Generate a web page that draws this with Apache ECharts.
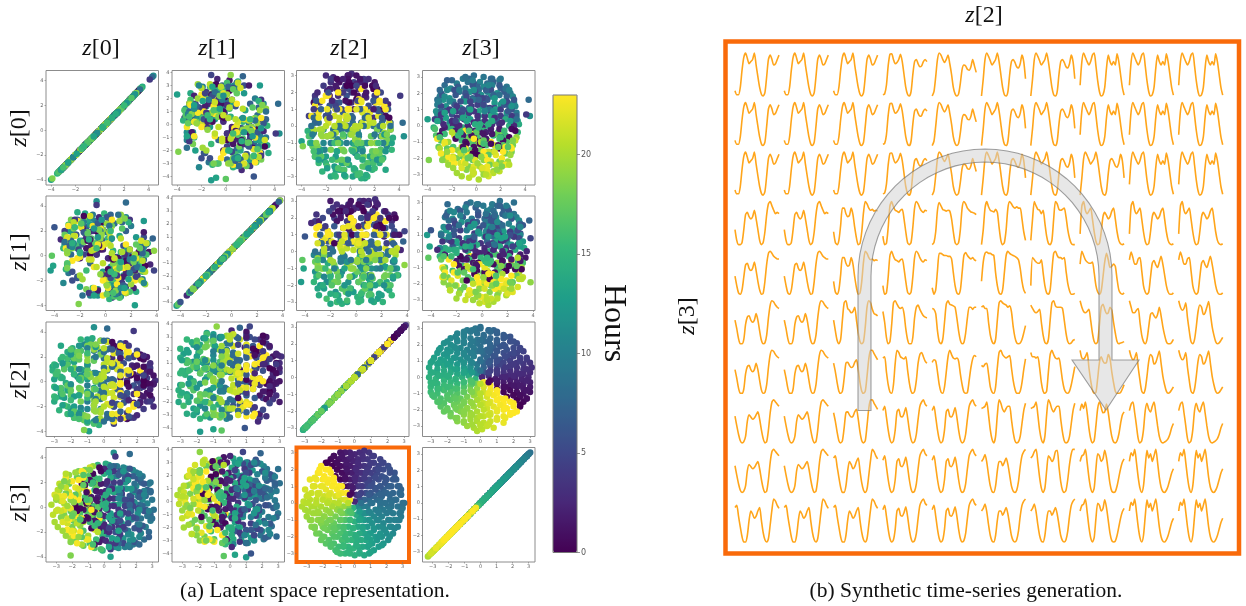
<!DOCTYPE html>
<html><head><meta charset="utf-8">
<style>html,body{margin:0;padding:0;background:#fff}#c{width:1246px;height:606px}</style>
<script src="https://cdn.jsdelivr.net/npm/echarts@6/dist/echarts.min.js"></script>
</head><body><div id="c"></div>
<script>
// Latent coordinates and the hour of each sample
const z2 = [
[-.8,-.3,0,.5,.8],
[-1.4,-1,-.6,-.2,.2,.6,1,1.4],
[-1.8,-1.4,-1,-.6,-.2,.2,.6,1,1.4,1.8],
[-2.2,-1.8,-1.4,-1,-.6,-.2,.2,.6,1,1.4,1.8,2.2],
[-2.4,-2,-1.6,-1.2,-.8,-.4,0,.4,.8,1.2,1.6,2,2.4],
[-2.6,-2.2,-1.8,-1.4,-1,-.6,-.2,.2,.6,1,1.4,1.8,2.2,2.6],
[-2.8,-2.4,-2,-1.6,-1.2,-.8,-.4,0,.4,.8,1.2,1.6,2,2.4,2.8],
[-3,-2.6,-2.2,-1.8,-1.4,-1,-.6,-.2,.2,.6,1,1.4,1.8,2.2,2.6,3],
[-3.1,-2.6,-2.2,-1.8,-1.4,-1,-.6,-.2,.2,.6,1,1.4,1.8,2.2,2.6,3.1],
[-3,-2.6,-2.2,-1.8,-1.4,-1,-.6,-.2,.2,.6,1,1.4,1.8,2.2,2.6,3],
[-3.1,-2.7,-2.3,-1.9,-1.5,-1.1,-.7,-.3,.1,.5,.9,1.3,1.7,2.1,2.5,2.9],
[-3,-2.6,-2.2,-1.8,-1.4,-1,-.6,-.2,.2,.6,1,1.4,1.8,2.2,2.6,3],
[-3,-2.6,-2.2,-1.8,-1.4,-1,-.6,-.2,.2,.6,1,1.4,1.8,2.2,2.6,3],
[-3,-2.6,-2.2,-1.8,-1.4,-1,-.6,-.2,.2,.6,1,1.4,1.8,2.2,2.6,3],
[-2.8,-2.4,-2,-1.6,-1.2,-.8,-.4,0,.4,.8,1.2,1.6,2,2.4,2.8],
[-2.6,-2.2,-1.8,-1.4,-1,-.6,-.2,.2,.6,1,1.4,1.8,2.2,2.6],
[-2.4,-2,-1.6,-1.2,-.8,-.4,0,.4,.8,1.2,1.6,2,2.4],
[-2.2,-1.8,-1.4,-1,-.6,-.2,.2,.6,1,1.4,1.8,2.2],
[-1.8,-1.4,-1,-.6,-.2,.2,.6,1,1.4,1.8],
[-1.4,-1,-.6,-.2,.2,.6,1,1.4],
[-.8,-.4,0,.4,.8],
[-.2,.1],
[-.9,-.6,.2,1.8,-1.8,-1,-.5,.9,1.2,-.8,.6,-1.2],
[2.8,2.8,2.8,2.8,2.8],
[2.4,2.4,2.4,2.4,2.4,2.4],
[2,2,2,2,2,2,2,2],
[1.5,1.5,1.5,1.5,1.5,1.5,1.5,1.5,1.5],
[1,1,1,1,1,1,1,1,1,1],
[.5,.5,.5,.5,.5,.5,.5,.5,.5,.5],
[0,0,0,0,0,0,0,0,0,0],
[-.5,-.5,-.5,-.5,-.5,-.5,-.5,-.5,-.5,-.5],
[-1,-1,-1,-1,-1,-1,-1,-1,-1,-1],
[-1.5,-1.5,-1.5,-1.5,-1.5,-1.5,-1.5,-1.5,-1.5],
[-2,-2,-2,-2,-2,-2,-2],
[-2.5,-2.5,-2.5,-2.5,-2.5],
[-2.9,-2.9,-2.9,-2.9]
].flat();
const z3 = [
[2.9,3,3.1,2.9,2.9],
[2.7,2.6,2.8,2.7,2.6,2.8,2.7,2.6],
[2.4,2.3,2.5,2.4,2.3,2.5,2.4,2.3,2.4,2.5],
[2.1,2,2.2,2.1,2,2.1,2.2,2,2.1,2,2.2,2.1],
[1.8,1.7,1.9,1.8,1.7,1.8,1.9,1.7,1.8,1.9,1.7,1.8,1.8],
[1.5,1.4,1.6,1.5,1.4,1.5,1.6,1.4,1.5,1.6,1.5,1.4,1.5,1.6],
[1.2,1.1,1.3,1.2,1.1,1.2,1.3,1.1,1.2,1.3,1.1,1.2,1.3,1.2,1.1],
[.9,.8,1,.9,.8,.9,1,.8,.9,1,.8,.9,1,.9,.8,.9],
[.6,.5,.7,.6,.5,.6,.7,.5,.6,.7,.5,.6,.7,.6,.5,.6],
[.3,.2,.4,.3,.2,.3,.4,.2,.3,.4,.2,.3,.4,.3,.2,.3],
[0,-.1,.1,0,-.1,0,.1,-.1,0,.1,-.1,0,.1,0,-.1,0],
[-.3,-.4,-.2,-.3,-.4,-.3,-.2,-.4,-.3,-.2,-.4,-.3,-.2,-.3,-.4,-.3],
[-.6,-.7,-.5,-.6,-.7,-.6,-.5,-.7,-.6,-.5,-.7,-.6,-.5,-.6,-.7,-.6],
[-.9,-1,-.8,-.9,-1,-.9,-.8,-1,-.9,-.8,-1,-.9,-.8,-.9,-1,-.9],
[-1.2,-1.3,-1.1,-1.2,-1.3,-1.2,-1.1,-1.3,-1.2,-1.1,-1.3,-1.2,-1.1,-1.2,-1.3],
[-1.5,-1.6,-1.4,-1.5,-1.6,-1.5,-1.4,-1.6,-1.5,-1.4,-1.6,-1.5,-1.4,-1.5],
[-1.8,-1.9,-1.7,-1.8,-1.9,-1.8,-1.7,-1.9,-1.8,-1.7,-1.9,-1.8,-1.8],
[-2.1,-2.2,-2,-2.1,-2.2,-2.1,-2,-2.2,-2.1,-2,-2.2,-2.1],
[-2.4,-2.5,-2.3,-2.4,-2.5,-2.4,-2.3,-2.5,-2.4,-2.3],
[-2.7,-2.8,-2.6,-2.7,-2.8,-2.7,-2.6,-2.8],
[-3,-3.1,-2.9,-3,-3.1],
[-3.3,-3.2],
[.4,.6,1.6,.7,1,.3,-.4,1.3,.8,-1.9,1.9,-2.1],
[1.2,.5,-.2,-.8,-1.3],
[1.7,1,.2,-.5,-1.1,-1.7],
[2.2,1.5,.8,.1,-.5,-1.1,-1.6,-2.2],
[2.5,1.9,1.3,.6,0,-.6,-1.3,-1.9,-2.5],
[2.8,2.2,1.6,1,.4,-.2,-.8,-1.4,-2,-2.6],
[2.9,2.2,1.6,.9,.3,-.3,-1,-1.6,-2.3,-2.9],
[3,2.3,1.6,1,.4,-.4,-1,-1.7,-2.4,-3],
[2.9,2.2,1.5,.9,.3,-.3,-.9,-1.6,-2.3,-2.9],
[2.8,2.2,1.5,.9,.3,-.3,-.9,-1.5,-2.1,-2.7],
[2.5,1.8,1.2,.5,-.1,-.7,-1.3,-1.9,-2.5],
[2.2,1.5,.8,.1,-.6,-1.3,-2],
[1.7,.9,.1,-.7,-1.5],
[1,.3,-.4,-1.1]
].flat();
const z0 = [
[-1.1,.6,-.2,1.3,-.6],
[.3,-1.6,1.9,-.7,.9,-2,1.4,-.2],
[.6,-2.1,1.3,2.5,-.9,-2.6,.1,2,-1.5,-.3],
[-.5,1.7,-2.4,.9,2.8,-1.4,.2,-2.9,2.3,-.9,1.2,-.1],
[1.2,-2.2,.4,3,-1,-3,1.9,-.3,2.5,-1.7,.8,-.8,.1],
[-.9,1.5,-2.7,.5,3.1,-1.9,-.2,2.6,-3.1,.9,-1.3,2.1,-.5,.3],
[.5,-1.3,2,-2.5,.9,3.2,-3.2,-.6,2.7,-1.8,1.5,-2.9,.1,-.4,1.1],
[.2,-1.2,1.6,-2,2.5,-3.3,.7,3.3,-2.9,2.9,-.7,-2.5,2,-1.6,1.2,-.2],
[1.2,2.9,-.7,1.6,-2.5,.2,-3.2,2.4,3.3,-2,-1.2,2,-2.9,.7,-1.6,.1],
[-1.6,.4,2.4,-2.9,1,3.4,-.5,-2.2,1.7,-3.4,2.9,.1,-1,.7,-.2,-2],
[.9,-2.3,-.1,2.7,-1.1,.4,3.5,-3.5,-.7,1.9,-2.6,3.1,1.3,-1.9,.5,-1.4],
[-.4,1.8,-2,.6,3.4,-1.3,-3.4,2.2,-.9,2.9,.3,-2.8,1.2,-1.7,.8,-.1],
[1.4,-.7,-2.6,2.4,.1,-3.3,1.7,3.3,-1.8,-.4,2.7,-3,.6,-1.1,2,-.2],
[-1.2,.3,1.9,-2.9,2.5,.9,-.6,-2.3,3.2,-3.2,1.2,-.1,-1.7,2.2,-.9,.5],
[.8,-1.9,-.3,2.2,-3.1,3,.2,-1.2,1.5,-2.6,2.8,.5,-.8,1.8,-.2],
[-.5,1.4,-2.4,.3,2.9,-1.5,-3,1,2.3,-.9,.6,-2,1.9,-.1],
[1,-1.1,2.4,-2.7,.4,2.8,-.4,-1.9,1.6,-2.9,.7,-.7,.1],
[-.3,1.9,-1.6,.6,2.6,-2.5,-.9,1.2,-.1,2.1,-2,.9],
[1.1,-.6,2.1,-2.3,.3,1.6,-1.3,-.2,2.4,-1.8],
[-.8,1.4,-1.9,.5,1.9,-.3,-1.2,.9],
[.6,-1.2,1.4,-.3,1],
[.2,-.6],
[-4,4.4,4.3,4.1,-1.2,-.8,0,2.3,-1.2,.4,1.4,-3.9],
[-1.6,1.5,-.6,.8,-1.1],
[.5,-2.2,2.1,-1.2,1.2,-.3],
[-1.8,2.5,-.6,-2.7,1.3,.3,2.2,-1],
[1.9,-2.8,.6,2.9,-1.5,-.4,2.4,-2.3,.9],
[-2.4,.8,3.1,-1.1,-3,1.9,-.2,2.9,-1.9,.5],
[1.2,-3,.2,2.6,-1.7,3.2,-2.6,1.5,-.9,-.2],
[-.9,2.4,-3.2,1.1,3.3,-2,.4,-1.3,2.7,.8],
[2,-1.4,-3.1,.7,2.8,-.6,3,-2.4,.1,-1.6],
[-.3,2.7,-2.2,1.4,-3.2,2.3,.6,-1,-2.8,1.7],
[1,-2.6,2.9,-1.1,.2,-3,1.8,-.5,2.1],
[-.2,2.2,-2.6,1,-1.5,2.6,-.7],
[1.5,-1.9,.3,2,-1],
[-.5,1.3,-1.3,.6]
].flat();
const z1 = [
[.8,-.9,1.4,-.3,-1.2],
[-1.3,.7,.1,2,-1.9,1.2,-.5,1.7],
[-2.2,1,.4,-1.2,2.5,.9,-2.7,1.6,-.3,2.1],
[1.1,-2.3,.5,2.7,-.8,-2.9,1.8,.2,-1.5,2.3,-.3,.9],
[-1.6,.6,2.9,-1.1,2.1,.3,-2.6,3,-.4,-2.2,1.4,.9,-.7],
[.4,2.4,-.6,-3,1.6,2.9,-2.1,.7,-.9,3.2,-2.6,-.2,1.2,-1.1],
[1.7,-.2,-2.8,1,-3.2,.3,-1.2,2.6,1.3,-2.2,3,.6,-1.7,2.2,-.6],
[-.7,2,-2.5,.2,-1.2,1.2,3,-1,.9,-2.2,2.9,1.6,-3.2,2.5,-1.8,.3],
[-2,-1.4,-3,1.1,-2,3.2,-.6,2,.4,-2.6,.8,-1,1.7,-3.1,-.1,1.5],
[1.4,-2.9,-.4,2.4,3.3,-1.6,.9,-3.3,-2.3,.5,1.9,-.7,2.8,-1.2,.2,1],
[-1.1,.1,2.6,1.8,-3.1,.6,-2.2,.3,3.5,-1.3,2.2,-.5,-3.5,.9,-.2,1.6],
[2.1,-1.6,.8,-3.3,-.1,2.9,1.1,-2.5,-.9,.4,3.4,-.6,-2.9,1.4,-1.1,.6],
[.2,2.8,-1,-1.9,3.2,.7,-3.2,1.2,2.3,-2.6,-.3,1.6,-1.5,3,-.7,-2],
[-1.5,1.2,-.5,1.9,-2.9,2.4,.6,3.1,-1.2,-.2,-3.1,2.1,.9,-1.8,1.5,-.4],
[-2.3,.5,2.7,1.3,.1,-1.7,-3,2.9,.4,-.9,-2.2,1.9,3.1,-.4,1],
[1,-1.1,.2,2.7,-2.7,-.4,1.6,3.2,-1.9,.8,-3.1,2.3,-.6,.5],
[-.8,2.4,.5,-1.5,-3,1.1,2.9,.1,-2.4,1.5,-.3,1.9,-1.2],
[.7,-1.4,2.3,-2.6,.1,1.3,-.7,2.8,-2,.4,-.2,1.6],
[-1.7,.6,-.2,2,1.3,-2.5,.2,2.4,-1,1],
[1.2,-.4,-1.8,1.9,.3,-1.1,2,-.1],
[-.7,.9,1.2,-1.3,.2],
[.5,-.2],
[2.3,-.7,1.6,-.7,-4.3,-4.1,-4.2,-4,3.8,3.8,3.7,-2.1],
[.9,-1.5,1.7,-.5,.2],
[-2.1,1.3,-.8,2.3,-1.4,.6],
[.4,-2.6,1.9,.9,-1.2,2.6,-.4,1.4],
[-1.7,.7,2.8,-2.4,.2,1.6,-2.9,.9,-.6],
[1.4,-2.8,.1,2.2,-1.3,3,-2.2,.5,1.9,-.9],
[-2.7,1,2.9,-.6,2.4,-1.7,.2,-3,1.7,.7],
[2.5,.3,-1.8,-3.2,1,2.8,-1.1,3.1,-2.5,.4],
[-.4,1.9,.8,-2.6,3,-3,1.5,.1,2.3,-2],
[1.9,-1.7,3,.5,-.9,-2.4,2.7,-3,.8,-.3],
[-2.5,1.2,-.3,2.9,-2,.6,-1.4,2.2,-.5],
[2.2,-.9,1.5,-2.6,.7,-1.9,1.1],
[-.6,1.8,-2,.4,1.1],
[1.2,-1.3,.4,-.7]
].flat();
const hours = [
[9.5,9,8.5,8,7.5],
[10.3,9.8,9.3,8.7,8.2,7.7,7.1,6.7],
[10.9,10.5,10,9.4,8.8,8.1,7.5,7,6.5,6],
[11.5,11.2,10.7,10.1,9.5,8.8,8.1,7.4,6.7,6.2,5.7,5.4],
[12,11.7,11.3,10.7,10.1,9.3,8.5,7.6,6.9,6.2,5.7,5.3,4.9],
[12.5,12.2,11.8,11.3,10.7,9.9,9,8,7,6.2,5.6,5.1,4.7,4.5],
[12.9,12.7,12.4,12,11.5,10.7,9.7,8.5,7.3,6.2,5.5,5,4.5,4.3,4],
[13.3,13.2,13,12.7,12.3,11.7,10.7,9.3,7.6,6.2,5.3,4.7,4.3,3.9,3.7,3.6],
[13.7,13.6,13.5,13.3,12.9,12.4,11.5,9.7,7.3,5.5,4.5,4,3.7,3.5,3.4,3.2],
[14.1,14,14,13.9,13.7,13.3,12.7,10.7,6.2,4.3,3.6,3.3,3.1,3,2.9,2.9],
[14.5,14.9,14.2,14.5,14.8,14.5,14,14.8,2.5,3.2,2.1,2.5,2.8,2.5,2.3,2.5],
[14.9,14.9,15,15.1,15.3,15.6,16.3,18.2,22.7,.7,1.3,1.7,1.9,1.9,2,2.1],
[15.2,15.3,15.5,15.7,16,16.5,17.5,19.3,21.7,23,.4,.9,1.3,1.5,1.6,1.7],
[15.6,15.7,16,16.3,16.7,17.3,18.2,19.6,21.3,22.7,23,.3,.7,1,1.2,1.3],
[16,16.3,16.5,16.9,17.5,18.2,19.3,20.5,21.7,22.7,23,0,.4,.7,.9],
[16.5,16.7,17.1,17.6,18.2,19,20,21,22,22.7,23,23,.2,.5],
[16.9,17.3,17.7,18.2,18.9,19.6,20.5,21.3,22.1,22.7,23,23,0],
[17.4,17.7,18.2,18.8,19.4,20.1,20.8,21.5,22.1,22.7,23,23],
[18,18.5,19,19.5,20.1,20.8,21.4,22,22.5,22.9],
[18.7,19.1,19.7,20.2,20.7,21.2,21.8,22.3],
[19.5,20,20.5,21,21.5],
[20.2,20.7],
[12.9,11.5,8,3.9,12.5,13.3,17.1,6.1,4.7,19,7.3,18.5],
[4,3.1,2.2,1.4,.8],
[4.8,4,2.8,1.7,.8,.1],
[5.7,5,3.9,2.7,1.5,.5,23,23],
[6.4,6,5.2,3.9,2.5,1,23,22.9,22.4],
[7.1,6.9,6.3,5.5,3.9,1.7,23,22.9,22.3,21.9],
[7.8,7.6,7.3,6.5,4.5,.4,22.3,21.6,21.2,21.1],
[8.5,8.5,8.5,8.5,8.5,20.5,20.5,20.5,20.5,20.5],
[9.1,9.3,9.7,10.4,12.4,16.5,18.5,19.3,19.7,19.8],
[9.8,10.1,10.7,11.7,13.3,15.6,17.3,18.2,18.8,19.1],
[10.5,11.1,11.9,13.3,14.7,16.1,17.2,18,18.4],
[11.3,12,13,14.3,15.6,16.7,17.5],
[12.2,13.1,14.3,15.5,16.5],
[13.2,14.1,15,15.9]
].flat();
const latent = [z0, z1, z2, z3];
const axisMin = [-4.42, -4.66, -3.5, -3.64];
const axisMax = [4.82, 4.15, 3.3, 3.4];
const axisTicks = [[-4,-2,0,2,4],[-4,-2,0,2,4],[-3,-2,-1,0,1,2,3],[-3,-2,-1,0,1,2,3]];
const axisTicksY = [[-4,-2,0,2,4],[-4,-3,-2,-1,0,1,2,3,4],[-3,-2,-1,0,1,2,3],[-3,-2,-1,0,1,2,3]];
const hourTicks = [0,5,10,15,20];
const viridis = ['#440154','#482878','#3e4989','#31688e','#26828e','#1f9e89','#35b779','#6ece58','#b5de2b','#fde725'];

// Daily load profiles (26 samples per curve)
const profiles = [
[.12,.03,.03,.2,.6,.9,1,.88,.75,.8,.85,1,.72,.45,.2,.04,0,.08,.45,.85,.95,.85,.72,.75,.85,.95],
[.03,.05,.25,.7,.97,.98,.85,.75,.78,.85,.97,.8,.5,.2,.04,0,.1,.5,.8,.85,.75,.68,.7,.8,.85,.8],
[0,.1,.45,.85,1,.95,.85,.78,.85,.95,.75,.5,.2,.05,0,.05,.3,.62,.72,.7,.62,.6,.68,.85,.7,.55],
[0,.4,.85,1,.92,.82,.72,.78,.85,1,.8,.5,.2,.03,0,.1,.5,.8,.85,.78,.68,.65,.75,.95,.8,.4],
[.25,.8,1,.9,.8,.72,.8,.95,1,.7,.35,.1,0,.03,.2,.65,.95,.8,.72,.8,.72,.98,.8,.5,.2,.02],
[.35,.1,0,0,.05,.35,.7,.75,.65,.6,.65,.8,.6,.35,.1,0,.05,.3,.7,.95,1,.9,.8,.72,.75,.72],
[.3,.05,0,.1,.45,.85,.85,.72,.65,.68,.85,.7,.4,.15,0,.03,.3,.75,1,.95,.85,.8,.82,.78,.8,.78],
[.2,0,.03,.4,.9,1,.88,.8,.78,.75,.8,.82,.6,.3,.05,0,.05,.4,.85,1,.95,.85,.78,.75,.8,.78],
[0,.05,.3,.8,.98,.9,.82,.8,.78,.8,.78,.6,.3,.05,0,.05,.35,.85,1,.95,.85,.8,.76,.75,.73,.7],
[.42,.2,.03,0,.1,.4,.68,.72,.6,.55,.6,.75,.55,.3,.1,0,.02,.3,.7,.95,1,.95,.88,.85,.82,.82],
[.15,0,.1,.55,.95,.95,.92,.9,.9,.88,.88,.82,.5,.2,.03,0,.1,.5,.9,.97,.9,.85,.82,.85,.8,.78],
[0,.35,.85,1,.88,.8,.78,.76,.82,.75,.4,.1,0,.05,.35,.85,1,.95,.88,.85,.88,.85,.85,.6,.3,.1],
[.3,.75,.95,.98,.95,.95,.92,.9,.5,.2,.03,0,.1,.5,.9,1,.95,.92,.9,.88,.85,.8,.6,.3,.1,.02],
[.1,.6,1,.9,.82,.8,.72,.8,.5,.2,.03,0,.1,.6,1,.95,.82,.8,.82,.85,.65,.35,.15,.03,0,0],
[.2,.85,.8,.75,.72,.72,.8,.5,.2,.03,0,.1,.55,.95,1,.9,.85,.85,.82,.85,.55,.25,.08,0,0,.02],
[.25,.9,1,.8,.72,.78,.85,.6,.3,.08,0,.03,.3,.65,.75,.68,.6,.65,.78,.85,.6,.3,.1,.02,0,.02],
[.7,1,.9,.8,.75,.72,.72,.75,.5,.2,.05,0,.08,.4,.75,.95,.8,.62,.65,.7,.65,.35,.1,.02,0,.03],
[.8,.98,.85,.7,.7,.82,.85,.55,.2,.05,0,.05,.4,.72,.78,.68,.62,.75,.88,.7,.45,.2,.05,0,0,.03],
[.55,.35,.12,0,0,.1,.45,.62,.65,.55,.5,.55,.7,.55,.3,.08,0,.02,.2,.6,.9,1,.97,.9,.85,.82],
[.62,.4,.2,.05,0,.03,.15,.5,.65,.6,.55,.58,.65,.72,.55,.3,.1,0,.03,.3,.7,.95,1,.95,.9,.85],
[.8,.85,.6,.35,.12,0,0,.15,.5,.72,.65,.55,.6,.72,.8,.5,.22,.05,0,.08,.4,.75,1,.95,.85,.78],
[.55,.3,.08,0,.1,.55,.95,1,.82,.78,.72,.75,.85,.55,.25,.05,0,.05,.4,.85,1,.95,.8,.7,.68,.65],
[.7,.5,.25,.05,0,.05,.35,.7,.72,.65,.6,.62,.72,.78,.55,.25,.05,0,.05,.4,.8,1,1,.92,.85,.78],
[.75,.5,.15,0,.05,.45,.95,1,.92,.85,.82,.85,.7,.35,.1,0,0,.15,.6,.85,.9,.8,.72,.65,.62,.6],
[.82,.8,.7,.3,.05,0,.1,.5,.92,1,.92,.9,.88,.85,.6,.3,.08,0,.03,.25,.6,.85,.85,.8,.85,.85],
[.82,.85,.5,.2,.03,0,.2,.7,1,.95,.85,.82,.8,.85,.55,.25,.05,0,.05,.3,.7,.9,.95,.85,.75,.7],
[.72,.78,.75,.5,.2,.03,0,.15,.5,.85,1,.9,.82,.8,.82,.75,.45,.2,.03,0,.02,.3,.6,.8,.88,.85],
[.75,.85,.6,.3,.08,0,.05,.3,.72,.78,.62,.6,.68,.82,.6,.3,.08,0,.03,.2,.55,.85,.95,1,.9,.85],
[.85,.88,.82,.82,.5,.2,.05,0,.1,.55,.95,1,.95,.92,.9,.85,.88,.75,.4,.15,.02,0,.02,.1,.25,.42],
[.9,.82,.75,.72,.75,.8,.5,.2,.03,0,.1,.55,.95,1,.88,.85,.85,.85,.82,.55,.25,.05,0,.02,.08,.1],
[1,.85,.75,.72,.75,.8,.55,.25,.05,0,.05,.45,.85,.92,.8,.7,.72,.85,.78,.5,.25,.05,0,.02,.03,.05],
[1,.85,.72,.72,.78,.82,.5,.2,.05,0,.1,.4,.68,.72,.65,.6,.68,.85,.65,.4,.2,.05,0,0,.03,.1],
[1,.85,.78,.82,.95,.6,.3,.05,0,.1,.4,.75,.9,.85,.68,.72,.85,.98,.7,.4,.2,.05,0,.02,.08,.15],
[.65,.62,.68,.7,.45,.15,.03,0,.15,.6,.95,1,.9,.85,.82,.85,.88,.6,.3,.1,0,0,.05,.25,.55,.8],
[.95,.85,.85,.82,.85,.6,.25,.05,0,.05,.5,.9,1,.9,.82,.8,.82,.6,.3,.1,.02,0,.05,.2,.4,.62],
[1,.82,.8,.85,.95,.6,.3,.08,0,.02,.35,.72,.85,.75,.7,.72,.9,.8,.5,.25,.05,0,0,.02,.1,.2],
[.8,.82,.85,.95,.65,.3,.08,0,.15,.65,1,.92,.78,.72,.8,.85,.85,.55,.25,.05,0,.02,.15,.45,.75,.92],
[.75,.9,.8,.95,.7,.35,.1,0,.05,.4,.8,.95,.82,.7,.72,.9,.7,.4,.15,.02,0,.05,.2,.45,.65,.72],
[.75,.9,.95,.7,.4,.1,0,.05,.3,.75,.92,.78,.72,.85,.95,.7,.4,.15,.03,0,.02,.05,.1,.2,.35,.45],
[.72,.78,.88,.7,.4,.15,.02,0,.15,.5,.72,.72,.62,.7,.8,.65,.4,.15,.03,0,.05,.25,.6,.85,.95,1],
[.8,.85,.95,1,.7,.35,.1,0,.1,.5,.85,.8,.72,.78,.95,.98,.6,.25,.05,0,.05,.3,.65,.9,1,1],
[.72,.85,.88,1,.7,.35,.1,0,.1,.55,.9,.85,.72,.78,.98,.8,.5,.2,.03,0,.02,.15,.35,.55,.7,.78],
[.72,.92,.85,1,.7,.35,.1,0,.15,.6,.98,.8,.9,.72,.85,1,.7,.35,.12,.02,0,.05,.15,.3,.45,.55]
];
const profileGrid = [
[0,0,0,1,2,3,3,4,4,4],
[0,0,0,1,2,3,3,4,4,4],
[0,0,0,1,2,3,3,3,4,4],
[5,5,6,7,8,11,13,15,15,15],
[9,9,6,7,10,12,14,16,17,17],
[18,18,21,23,24,28,29,30,31,32],
[18,18,22,25,26,33,34,35,32,32],
[19,19,22,27,27,36,36,37,38,38],
[19,19,20,27,27,39,40,41,42,42],
[20,20,20,27,27,39,39,41,42,42]
];
const sampleIdx = profiles[0].map((_, i) => i);
const rowNames = ['0','1','2','3'];

// layout
const panelX = [46, 172, 296.5, 422.5], panelY = [70.5, 196, 322, 447.5], panelW = 112.5, panelH = 114.5;
const serif = 'Liberation Serif';
const grid = [], xAxis = [], yAxis = [], series = [];
const minus = v => String(v).replace('-', '\u2212');
const tickAxis = (idx, ticks, g, pos) => ({
  type: 'value', gridIndex: g, min: axisMin[idx], max: axisMax[idx], position: pos,
  axisLine: {show: false, onZero: false}, splitLine: {show: false},
  axisTick: {show: true, length: 1.5, customValues: ticks, lineStyle: {color: '#777', width: .6}},
  axisLabel: {show: true, fontSize: 5, color: '#666', margin: 2.5, fontFamily: 'DejaVu Sans', customValues: ticks, formatter: minus}
});
const scatterIdx = [];
for (let r = 0; r < 4; r++) for (let c = 0; c < 4; c++) {
  const g = grid.length, hi = r === 3 && c === 2;
  grid.push({show: true, left: panelX[c], top: panelY[r], width: panelW, height: panelH,
    backgroundColor: '#fff', borderColor: hi ? '#f96a0a' : '#8c8c8c', borderWidth: hi ? 4 : 1});
  xAxis.push(tickAxis(r, axisTicks[r], g, 'bottom'));
  yAxis.push(tickAxis(c, axisTicksY[c], g, 'left'));
  scatterIdx.push(series.length);
  const pts = hours.map((h, i) => [latent[r][i], latent[c][i], h]);
  // the z[3] diagonal is painted in hour order, as its colours show
  if (r === 3 && c === 3) pts.sort((a, b) => a[2] - b[2]);
  series.push({type: 'scatter', xAxisIndex: g, yAxisIndex: g, symbolSize: 6.5, silent: true, animation: false,
    itemStyle: {opacity: 1}, data: pts});
}
// colour-bar axis
const gBar = grid.length;
grid.push({show: true, left: 553, top: 95, width: 24, height: 457.5, backgroundColor: 'transparent', borderColor: '#777', borderWidth: 1, z: 5});
xAxis.push({type: 'value', gridIndex: gBar, min: 0, max: 1, show: false});
yAxis.push({type: 'value', gridIndex: gBar, min: 0, max: 23, position: 'right', z: 5,
  axisLine: {show: false, onZero: false}, splitLine: {show: false},
  axisTick: {show: true, length: 3, customValues: hourTicks, lineStyle: {color: '#666', width: .7}},
  axisLabel: {show: true, fontSize: 8, color: '#555', margin: 4, fontFamily: 'DejaVu Sans', customValues: hourTicks}});
// curve grid
for (let r = 0; r < 10; r++) for (let c = 0; c < 10; c++) {
  const g = grid.length;
  grid.push({show: false, left: 735 + 49.3 * c, top: 53 + 49.55 * r, width: 44, height: 43});
  xAxis.push({type: 'category', gridIndex: g, data: sampleIdx, boundaryGap: false, show: false});
  yAxis.push({type: 'value', gridIndex: g, min: 0, max: 1, show: false});
  series.push({type: 'line', xAxisIndex: g, yAxisIndex: g, symbol: 'none', silent: true, animation: false, clip: false, smooth: .25,
    lineStyle: {color: '#ffa51a', width: 1.6}, data: profiles[profileGrid[r][c]]});
}
const zText = (n, x, y, rot, size) => ({type: 'text', x, y, rotation: rot || 0, silent: true, z: 20,
  style: {text: '{i|z}[' + n + ']', fontFamily: serif, fontSize: size || 24, fill: '#111', align: 'center', verticalAlign: 'middle',
    rich: {i: {fontStyle: 'italic', fontFamily: serif, fontSize: size || 24, fill: '#111'}}}});
// outline of the annotation arrow: two concentric arcs joined to the shaft and the head
const arrowPts = [[858, 410.5]];
for (let a = 180; a >= 0; a -= 5) arrowPts.push([985 + 127 * Math.cos(a * Math.PI / 180), 276 - 127 * Math.sin(a * Math.PI / 180)]);
arrowPts.push([1112, 360], [1139, 360], [1106, 410], [1072, 360], [1099, 360]);
for (let a = 0; a <= 180; a += 5) arrowPts.push([985 + 114 * Math.cos(a * Math.PI / 180), 276 - 114 * Math.sin(a * Math.PI / 180)]);
arrowPts.push([871, 410.5]);
const elements = [
  ...[101, 217, 349, 481].map((x, i) => zText(rowNames[i], x, 49)),
  ...[128, 252, 380, 503].map((y, i) => zText(rowNames[i], 20, y, Math.PI / 2)),
  zText('2', 984, 16), zText('3', 688, 316, Math.PI / 2),
  {type: 'text', x: 613, y: 323, rotation: -Math.PI / 2, silent: true, z: 20,
    style: {text: 'Hours', fontFamily: serif, fontSize: 32, fill: '#111', align: 'center', verticalAlign: 'middle'}},
  {type: 'text', x: 315, y: 591, silent: true, z: 20,
    style: {text: '(a) Latent space representation.', fontFamily: serif, fontSize: 21.5, fill: '#111', align: 'center', verticalAlign: 'middle'}},
  {type: 'text', x: 966, y: 591, silent: true, z: 20,
    style: {text: '(b) Synthetic time-series generation.', fontFamily: serif, fontSize: 21.5, fill: '#111', align: 'center', verticalAlign: 'middle'}},
  {type: 'rect', shape: {x: 725.5, y: 41.5, width: 513.5, height: 512}, silent: true, z: 1,
    style: {fill: 'none', stroke: '#f96a0a', lineWidth: 4.5}},
  {type: 'polygon', silent: true, z: 10, shape: {points: arrowPts},
    style: {fill: 'rgba(212,212,212,.55)', stroke: 'rgba(110,110,110,.65)', lineWidth: 1.1}}
];
const chart = echarts.init(document.getElementById('c'), null, {renderer: 'canvas', width: 1246, height: 606});
chart.setOption({
  backgroundColor: '#fff', animation: false, grid, xAxis, yAxis, series,
  visualMap: {type: 'continuous', min: 0, max: 23, dimension: 2, seriesIndex: scatterIdx, show: true, calculable: false, hoverLink: false,
    left: 553, top: 95, padding: 0, itemWidth: 24, itemHeight: 457.5, text: null, showLabel: false, silent: true, inRange: {color: viridis}},
  graphic: {elements}
});
</script></body></html>
